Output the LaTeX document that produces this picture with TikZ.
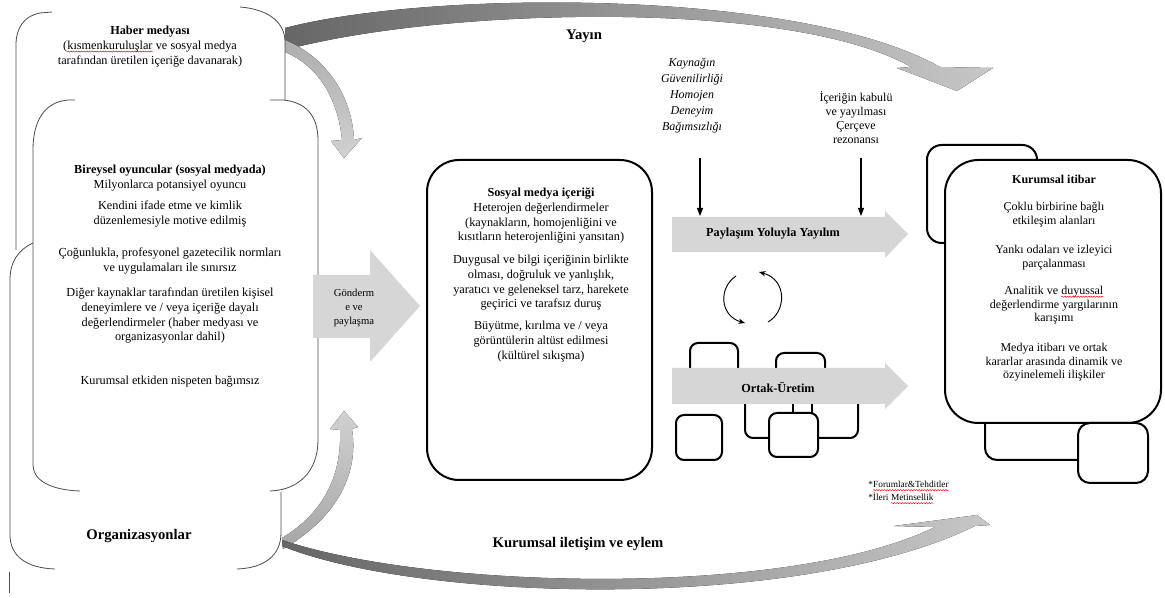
\documentclass[tikz,border=0pt]{standalone}
\usepackage{fontspec}
\setmainfont{Liberation Serif}
\usetikzlibrary{arrows.meta,decorations.pathmorphing}
\newcommand\redwave[1]{\tikz[baseline=(rw.base)]{\node[inner sep=0pt, outer sep=0pt] (rw) {#1}; \draw[red, line width=0.35pt, decorate, decoration={snake, amplitude=0.45pt, segment length=2pt}] ([yshift=-1.6pt]rw.base west) -- ([yshift=-1.6pt]rw.base east);}}
\tikzset{
 outl/.style={draw=black!70, line width=0.6pt},
 bbox/.style={draw=black, line width=1.5pt},
 para/.style={align=center, inner sep=0pt, anchor=north, font=\fontsize{9.2}{11}\selectfont},
 ttl/.style={inner sep=0pt, anchor=base, font=\fontsize{11}{13}\selectfont\bfseries},
 blk/.style={fill=black!16, draw=none},
 vline/.style={draw=black, line width=0.8pt, -{Triangle[length=6pt,width=4.5pt]}},
 cyc/.style={draw=black, line width=0.7pt, -{Stealth[length=5pt,width=4pt]}},
}
\begin{document}
\begin{tikzpicture}[x=0.75pt,y=-0.75pt]
\useasboundingbox (0,0) rectangle (1165,598);
\fill[white] (0,0) rectangle (1165,598);

% ---- gray curved arrows ----
\fill[left color=black!60, right color=black!22] (285,28) .. controls (430,-10) and (800,-12) .. (940,67) -- (993,68) -- (957,91) -- (897,68) -- (911,67) .. controls (790,-2) and (440,8) .. (285,50) -- cycle;
\fill[top color=black!32, bottom color=black!18] (285,40) .. controls (322,55) and (352,92) .. (354,140) -- (362,138) -- (344,158) -- (331,141) -- (342,140) .. controls (338,98) and (318,66) .. (285,52) -- cycle;
\fill[top color=black!18, bottom color=black!35] (282,538) .. controls (320,515) and (342,480) .. (340,430) -- (330,429) -- (344,411) -- (358,427) -- (352,429) .. controls (360,480) and (330,522) .. (283,549) -- cycle;
\fill[left color=black!60, right color=black!22] (282,546) .. controls (420,602) and (800,612) .. (975,526) -- (990,525) -- (977,515) -- (894,526) -- (935,527) .. controls (790,598) and (430,590) .. (282,540) -- cycle;

% ---- left stacked shapes ----
\draw[outl] (52,12) -- (40,13) .. controls (24,16) and (16,28) .. (16,45) -- (16,250);
\draw[outl] (240,7) .. controls (265,9) and (285,20) .. (285,42) -- (285,100);
\draw[outl] (75,100) -- (68,100) .. controls (45,102) and (33,120) .. (33,150) -- (33,465) .. controls (33,480) and (50,490) .. (80,491);
\draw[outl] (270,100) -- (283,100) .. controls (305,102) and (318,115) .. (318,140) -- (318,440) .. controls (318,470) and (300,490) .. (270,491);
\draw[outl] (33,243) .. controls (18,250) and (10,262) .. (10,280) -- (10,535) .. controls (10,555) and (25,568) .. (55,569);
\draw[outl] (281,492) -- (281,533) .. controls (281,555) and (265,568) .. (237,569);
\draw[outl] (9,572) -- (9,593);

\node[para] (haber) at (150,26) {\textbf{Haber medyası}\\(\redwave{kısmenkuruluşlar} ve sosyal medya\\tarafından üretilen içeriğe davanarak)};
\node[para] (bir1) at (170,165) {\textbf{Bireysel oyuncular (sosyal medyada)}\\Milyonlarca potansiyel oyuncu};
\node[para] (bir2) at (170,201) {Kendini ifade etme ve kimlik\\düzenlemesiyle motive edilmiş};
\node[para] (bir3) at (170,248) {Çoğunlukla, profesyonel gazetecilik normları\\ve uygulamaları ile sınırsız};
\node[para] (bir4) at (170,288) {Diğer kaynaklar tarafından üretilen kişisel\\deneyimlere ve / veya içeriğe dayalı\\değerlendirmeler (haber medyası ve\\organizasyonlar dahil)};
\node[para] (bir5) at (170,376) {Kurumsal etkiden nispeten bağımsız};
\node[ttl] (org) at (139,540) {Organizasyonlar};

% ---- Gonderme arrow ----
\fill[blk] (313,275) -- (370,275) -- (370,250) -- (420,306) -- (370,362) -- (370,338) -- (313,338) -- cycle;
\node[para, font=\fontsize{8}{10.5}\selectfont] (gond) at (354,289) {Gönderm\\e ve\\paylaşma};

% ---- Sosyal medya box ----
\draw[bbox, rounded corners=24pt] (427,160) rectangle (652,480);
\node[para] (sos1) at (541,188) {\textbf{Sosyal medya içeriği}\\Heterojen değerlendirmeler\\(kaynakların, homojenliğini ve\\kısıtların heterojenliğini yansıtan)};
\node[para] (sos2) at (541,255) {Duygusal ve bilgi içeriğinin birlikte\\olması, doğruluk ve yanlışlık,\\yaratıcı ve geleneksel tarz, harekete\\geçirici ve tarafsız duruş};
\node[para] (sos3) at (541,321) {Büyütme, kırılma ve / veya\\görüntülerin altüst edilmesi\\(kültürel sıkışma)};

% ---- top labels ----
\node[ttl] (yayin) at (584,40) {Yayın};
\node[para, font=\fontsize{9}{12}\selectfont\itshape] (kay) at (692,58) {Kaynağın\\Güvenilirliği\\Homojen\\Deneyim\\Bağımsızlığı};
\node[para, font=\fontsize{9}{10.5}\selectfont] (ice) at (856,91) {İçeriğin kabulü\\ve yayılması\\Çerçeve\\rezonansı};

% ---- small rounded squares (co-production) ----
\draw[bbox, rounded corners=6pt] (690,343) rectangle (738,395);
\draw[bbox, rounded corners=6pt] (776,353) rectangle (825,395);
\draw[bbox, rounded corners=6pt] (745,380) rectangle (858,438);
\draw[bbox] (793,400) -- (793,413) (812,400) -- (812,413);
\draw[bbox, fill=white, rounded corners=6pt] (769,413) rectangle (818,457);
\draw[bbox, fill=white, rounded corners=6pt] (676,415) rectangle (722,460);

% ---- process arrows ----
\fill[blk] (672,217) -- (885,217) -- (885,211) -- (908,234) -- (885,258) -- (885,252) -- (672,252) -- cycle;
\node[inner sep=0pt, font=\fontsize{9.2}{11}\selectfont\bfseries] (pay) at (773,234) {Paylaşım Yoluyla Yayılım};
\fill[blk] (672,368) -- (885,368) -- (885,363) -- (908,386) -- (885,409) -- (885,404) -- (672,404) -- cycle;
\node[inner sep=0pt, font=\fontsize{9.2}{11}\selectfont\bfseries] (ort) at (778,387) {Ortak-Üretim};

\coordinate (k1) at (700,158);
\coordinate (p1) at (700,216);
\coordinate (k2) at (861,158);
\coordinate (p2) at (861,216);
\draw[vline] (k1) -- (p1);
\draw[vline] (k2) -- (p2);

\coordinate (c1s) at (768,322);
\coordinate (c1e) at (759,272);
\coordinate (c2s) at (736,276);
\coordinate (c2e) at (745,323);
\draw[cyc] (c1s) .. controls (786,312) and (788,280) .. (c1e);
\draw[cyc] (c2s) .. controls (718,288) and (720,316) .. (c2e);

% ---- Kurumsal itibar ----
\draw[bbox, rounded corners=11pt] (927,145) rectangle (1037,243);
\draw[bbox, rounded corners=9pt] (985,395) rectangle (1100,460);
\draw[bbox, fill=white, rounded corners=25pt] (945,160) rectangle (1161,423);
\draw[bbox, fill=white, rounded corners=9pt] (1078,423) rectangle (1148,483);
\node[para, font=\fontsize{9}{10.2}\selectfont\bfseries] (kur1) at (1054,175) {Kurumsal itibar};
\node[para, font=\fontsize{9}{10.2}\selectfont] (kur2) at (1054,202) {Çoklu birbirine bağlı\\etkileşim alanları};
\node[para, font=\fontsize{9}{10.2}\selectfont] (kur3) at (1054,245) {Yankı odaları ve izleyici\\parçalanması};
\node[para, font=\fontsize{9}{10.2}\selectfont] (kur4) at (1054,286) {Analitik ve \redwave{duyussal}\\değerlendirme yargılarının\\karışımı};
\node[para, font=\fontsize{9}{10.2}\selectfont] (kur5) at (1054,343) {Medya itibarı ve ortak\\kararlar arasında dinamik ve\\özyinelemeli ilişkiler};

% ---- footnotes & bottom label ----
\node[inner sep=0pt, anchor=base west, font=\fontsize{7}{8}\selectfont] (f1) at (868,488) {*\redwave{Forumlar\&Tehditler}};
\node[inner sep=0pt, anchor=base west, font=\fontsize{7}{8}\selectfont] (f2) at (868,501) {*İleri \redwave{Metinsellik}};
\node[ttl] (kie) at (578,548) {Kurumsal iletişim ve eylem};
\end{tikzpicture}
\end{document}
